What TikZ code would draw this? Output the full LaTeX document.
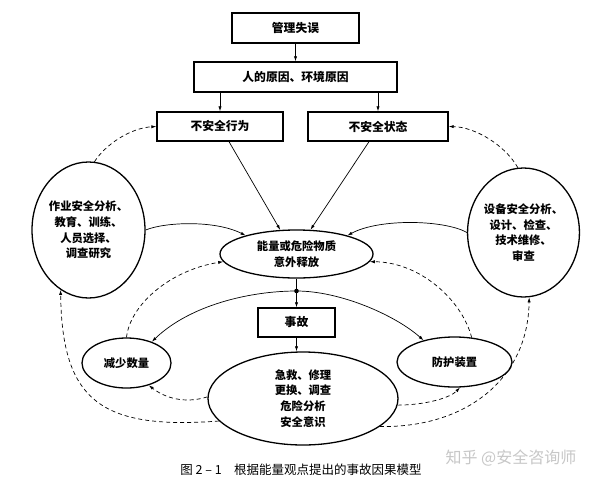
\documentclass[tikz,border=0pt]{standalone}
\usepackage{fontspec}
\setmainfont{Noto Sans CJK SC}
\usetikzlibrary{shapes.geometric,arrows.meta,calc}
\begin{document}
\begin{tikzpicture}[x=1pt,y=-1pt,
  box/.style={draw,line width=1.3pt,rectangle,inner sep=0pt,font=\fontsize{11.8}{15}\selectfont\bfseries},
  ell/.style={draw,line width=1.3pt,ellipse,inner sep=0pt,align=center,font=\fontsize{11.3}{15.7}\selectfont\bfseries},
  conn/.style={line width=0.7pt,-{Latex[length=5pt,width=3.2pt]}},
  plain/.style={line width=0.7pt},
  dconn/.style={conn,dash pattern=on 4pt off 3pt},
]
\useasboundingbox (0,0) rectangle (600,483);
\fill[white] (0,0) rectangle (600,483);

% boxes
\node[box,minimum width=127pt,minimum height=30pt] (m) at (295.5,28) {管理失误};
\node[box,minimum width=203pt,minimum height=30pt] (h) at (295.5,77) {人的原因、环境原因};
\node[box,minimum width=126pt,minimum height=29pt] (ua) at (220,126.5) {不安全行为};
\node[box,minimum width=140pt,minimum height=29pt] (us) at (378,126.5) {不安全状态};
\node[box,minimum width=77pt,minimum height=29pt] (acc) at (296.5,322.5) {事故};

% ellipses
\node[ell,minimum width=113pt,minimum height=136pt] (L) at (88.5,230) {作业安全分析、\\教育、训练、\\人员选择、\\调查研究};
\node[ell,minimum width=101pt,minimum height=129pt] (R) at (523.5,232.5) {设备安全分析、\\设计、检查、\\技术维修、\\审查};
\node[ell,minimum width=153pt,minimum height=48pt] (C) at (296.5,254) {能量或危险物质\\意外释放};
\node[ell,minimum width=190pt,minimum height=93pt] (B) at (303,398.5) {急救、修理\\更换、调查\\危险分析\\安全意识};
\node[ell,minimum width=89pt,minimum height=50pt] (J) at (126.5,363) {减少数量};
\node[ell,minimum width=115pt,minimum height=50pt] (F) at (454.5,362) {防护装置};

\coordinate (dot) at (296.5,291);
\fill (dot) circle (2.3pt);

% top chain
\draw[conn] (m.south) -- (m.south |- h.north);
\draw[conn] (h.south -| ua) -- (ua.north);
\draw[conn] (h.south -| us) -- (us.north);
\draw[conn] ([xshift=9pt]ua.south) -- (C.124);
\draw[conn] ([xshift=-9pt]us.south) -- (C.60);

% solid curves from side ellipses
\draw[conn] (L.east) .. controls (165,222) and (215,220) .. (C.160);
\draw[conn] (R.west) .. controls (445,220) and (380,218) .. (C.20);

% dashed from side ellipses to boxes
\draw[dconn] (L.85) .. controls (105,145) and (130,128) .. (ua.west);
\draw[dconn] (R.95) .. controls (505,145) and (475,127) .. (us.east);

% centre to accident
\draw[plain] (C.south) -- (dot);
\draw[conn] (dot) -- (acc.north);
\draw[conn] (acc.south) -- (acc.south |- B.north);

% solid curves from dot
\draw[conn] (dot) .. controls (250,291) and (190,305) .. (J.40);
\draw[conn] (dot) .. controls (340,291) and (395,315) .. (F.145);

% dashed feedbacks
\draw[dconn] (J.north) .. controls (130,305) and (170,270) .. (C.186);
\draw[dconn] (F.55) .. controls (462,300) and (420,262) .. (C.354);
\draw[dconn] (B.179) .. controls (185,404) and (165,398) .. (J.315);
\draw[dconn] (B.356) .. controls (425,405) and (450,398) .. (F.282);
\draw[dconn] (B.195) .. controls (100,430) and (62,400) .. (L.245);
\draw[dconn] (B.340) .. controls (465,428) and (528,380) .. (R.275);

% caption and watermark
\node[font=\fontsize{12.5}{14}\selectfont] (cap) at (301,470) {图 2 – 1\quad 根据能量观点提出的事故因果模型};
\node[font=\fontsize{16}{18}\selectfont,text=black!22] (wm) at (511,458) {知乎 @安全咨询师};
\end{tikzpicture}
\end{document}
